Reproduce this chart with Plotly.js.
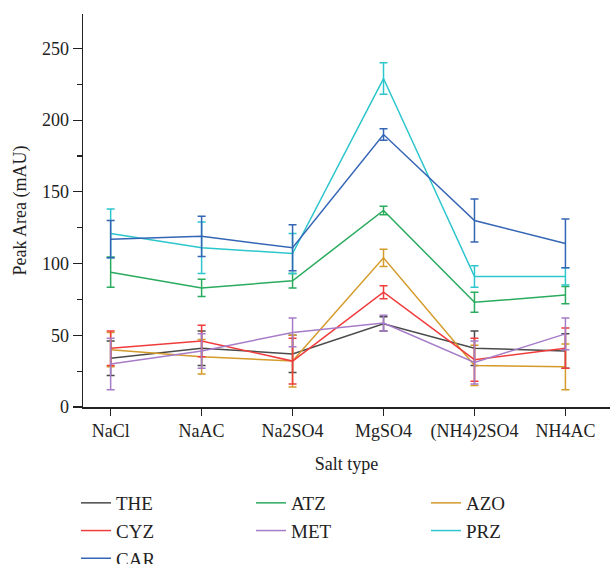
<!DOCTYPE html>
<html>
<head>
<meta charset="utf-8">
<script src="https://cdn.plot.ly/plotly-3.0.1.min.js"></script>
<style>
  html, body { margin: 0; padding: 0; background: #ffffff; }
  #chart { width: 610px; height: 564px; }
</style>
</head>
<body>
<div id="chart"></div>
<script>
// Salt types on the x axis
const categories = ['NaCl', 'NaAC', 'Na2SO4', 'MgSO4', '(NH4)2SO4', 'NH4AC'];

// Peak area (mAU) per analyte, with standard deviations
const theValues = [34, 41, 37, 58, 41, 39];
const theErrors = [12, 12, 13, 5, 12, 12];

const cyzValues = [41, 46, 32, 80, 33, 41];
const cyzErrors = [12, 11, 16, 4.5, 15, 14];

const carValues = [117, 119, 111, 190, 130, 114];
const carErrors = [13, 14, 16, 4, 15, 17];

const atzValues = [94, 83, 88, 137, 73, 78];
const atzErrors = [10.5, 6, 5, 3, 7, 6];

const metValues = [30, 39, 52, 58.5, 31, 51];
const metErrors = [18, 12, 10, 5.5, 15, 11];

const azoValues = [40, 35, 32, 104, 29, 28];
const azoErrors = [12, 12, 18, 6, 14, 16];

const przValues = [121, 111, 107, 229, 91, 91];
const przErrors = [17, 18, 14, 11, 7.5, 6];

// legend reads row by row, three entries per row
const seriesNames = ['THE', 'ATZ', 'AZO', 'CYZ', 'MET', 'PRZ', 'CAR'];

const series = {
  THE: { y: theValues, e: theErrors, color: '#4a4a4a' },
  CYZ: { y: cyzValues, e: cyzErrors, color: '#f03c3c' },
  CAR: { y: carValues, e: carErrors, color: '#3565b5' },
  ATZ: { y: atzValues, e: atzErrors, color: '#2aab5e' },
  MET: { y: metValues, e: metErrors, color: '#a67cc8' },
  AZO: { y: azoValues, e: azoErrors, color: '#d49a2a' },
  PRZ: { y: przValues, e: przErrors, color: '#2cc6cc' }
};

const traces = seriesNames.map(name => ({
  type: 'scatter',
  mode: 'lines',
  name: name,
  x: categories,
  y: series[name].y,
  line: { color: series[name].color, width: 1.5 },
  error_y: {
    type: 'data',
    array: series[name].e,
    visible: true,
    color: series[name].color,
    thickness: 1.5,
    width: 4
  }
}));

const font = { family: '"Liberation Serif", "DejaVu Serif", serif', color: '#222222' };
const f = size => Object.assign({ size: size }, font);

const layout = {
  width: 610,
  height: 564,
  margin: { l: 83, r: 0, t: 14, b: 157 },
  paper_bgcolor: '#ffffff',
  plot_bgcolor: '#ffffff',
  font: f(18),
  showlegend: true,
  xaxis: {
    type: 'category',
    range: [-0.304, 5.49],
    showline: true,
    linecolor: '#222222',
    linewidth: 1.5,
    ticks: 'outside',
    ticklen: 7,
    tickwidth: 1.2,
    tickcolor: '#222222',
    showgrid: false,
    zeroline: false,
    tickfont: f(18),
    title: { text: 'Salt type', font: f(18), standoff: 16 }
  },
  yaxis: {
    range: [0, 274],
    tick0: 0,
    dtick: 50,
    showline: true,
    linecolor: '#222222',
    linewidth: 1.5,
    ticks: 'outside',
    ticklen: 9,
    tickwidth: 1.2,
    tickcolor: '#222222',
    minor: { dtick: 25, ticks: 'outside', ticklen: 5, tickwidth: 1.2, tickcolor: '#222222' },
    showgrid: false,
    zeroline: false,
    tickfont: f(18),
    title: { text: 'Peak Area (mAU)', font: f(18), standoff: 10 }
  },
  legend: {
    orientation: 'h',
    xref: 'container',
    yref: 'container',
    x: 76 / 610,
    xanchor: 'left',
    y: 1 - 484 / 564,
    yanchor: 'top',
    entrywidth: 130,
    entrywidthmode: 'pixels',
    font: f(19),
    bgcolor: 'rgba(0,0,0,0)'
  },
  shapes: [
    // the x axis line runs a little past the y axis on the left
    { type: 'line', xref: 'paper', yref: 'y', x0: -8 / 527, x1: 0, y0: 0, y1: 0,
      line: { color: '#222222', width: 1.5 } }
  ]
};

Plotly.newPlot('chart', traces, layout, { displayModeBar: false, staticPlot: true });
</script>
</body>
</html>
